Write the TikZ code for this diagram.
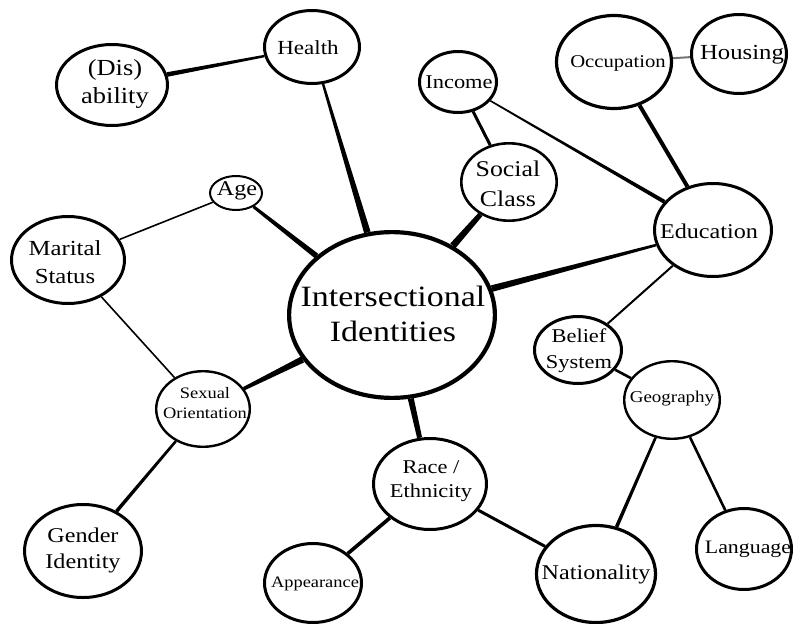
\documentclass[tikz,border=0pt]{standalone}
\usepackage{fontspec}
\setmainfont{Liberation Serif}[FakeStretch=1.15]
\usetikzlibrary{shapes.geometric,calc}
\pgfdeclarelayer{bg}
\pgfsetlayers{bg,main}
\newcommand\tsz[2]{\fontsize{#1}{#2}\selectfont}
% tapered connector: node A, node B, half width at A, half width at B, colour
\newcommand\taper[5][black]{%
  \path (#2) -- (#3) coordinate[pos=0] (tA) coordinate[pos=1] (tB);
  \fill[#1] ($(tA)!#4!90:(tB)$) -- ($(tB)!#5!-90:(tA)$) -- ($(tB)!#5!90:(tA)$) -- ($(tA)!#4!-90:(tB)$) -- cycle;}
\tikzset{
  oval/.style={ellipse, draw=black, line width=3pt, fill=white, inner sep=0pt},
  lbl/.style={align=center, inner sep=0pt, text=black},
}
\begin{document}
\begin{tikzpicture}[x=1pt,y=-1pt]
\path[use as bounding box] (0,0) rectangle (793,624);

% ovals
\node[oval, line width=4.2pt, minimum width=205.8pt, minimum height=165.8pt] (int) at (392,315) {};
\node[oval, minimum width=95pt, minimum height=73pt] (hea) at (312,47) {};
\node[oval, minimum width=111pt, minimum height=81pt] (dis) at (112,85) {};
\node[oval, line width=2pt, minimum width=52pt, minimum height=34pt] (age) at (236,193) {};
\node[oval, minimum width=113pt, minimum height=87pt] (mar) at (68,260) {};
\node[oval, minimum width=77pt, minimum height=61pt] (inc) at (458,82) {};
\node[oval, line width=2.6pt, minimum width=95.4pt, minimum height=77.4pt] (soc) at (509,182) {};
\node[oval, line width=3.2pt, minimum width=115pt, minimum height=93pt] (occ) at (614,62) {};
\node[oval, minimum width=95pt, minimum height=79pt] (hou) at (739,54) {};
\node[oval, minimum width=117pt, minimum height=93pt] (edu) at (713,230) {};
\node[oval, minimum width=87pt, minimum height=67pt] (bel) at (578,350) {};
\node[oval, line width=2.4pt, minimum width=95.6pt, minimum height=77.6pt] (geo) at (672,400) {};
\node[oval, line width=2.4pt, minimum width=93.6pt, minimum height=75.6pt] (sex) at (203,409) {};
\node[oval, minimum width=113pt, minimum height=91pt] (rac) at (430,484) {};
\node[oval, minimum width=117pt, minimum height=93pt] (gen) at (83,551) {};
\node[oval, minimum width=97pt, minimum height=79pt] (app) at (313,583) {};
\node[oval, line width=3.2pt, minimum width=119pt, minimum height=97pt] (nat) at (596,574) {};
\node[oval, minimum width=95pt, minimum height=81pt] (lan) at (744,549) {};

% labels
\node[lbl, font=\tsz{29.5}{35}] (int-t) at (393,314) {Intersectional\\Identities};
\node[lbl, font=\tsz{20}{24}] (hea-t) at (308,48) {Health};
\node[lbl, font=\tsz{23}{28}] (dis-t) at (115,84) {(Dis)\\ability};
\node[lbl, font=\tsz{21}{25}] (age-t) at (237,191) {Age};
\node[lbl, font=\tsz{21.5}{28}] (mar-t) at (65,262) {Marital\\Status};
\node[lbl, font=\tsz{19.5}{23}] (inc-t) at (459,82) {Income};
\node[lbl, font=\tsz{22.5}{30}] (soc-t) at (508,184) {Social\\Class};
\node[lbl, font=\tsz{18}{22}] (occ-t) at (618,63) {Occupation};
\node[lbl, font=\tsz{21.5}{26}] (hou-t) at (742,55) {Housing};
\node[lbl, font=\tsz{21}{25}] (edu-t) at (709,231) {Education};
\node[lbl, font=\tsz{19.5}{26}] (bel-t) at (579,351) {Belief\\System};
\node[lbl, font=\tsz{16.5}{20}] (geo-t) at (672,399) {Geography};
\node[lbl, font=\tsz{16}{20}] (sex-t) at (205,403) {Sexual\\Orientation};
\node[lbl, font=\tsz{19.5}{24}] (rac-t) at (431,481) {Race /\\Ethnicity};
\node[lbl, font=\tsz{21}{26}] (gen-t) at (83,550) {Gender\\Identity};
\node[lbl, font=\tsz{16}{20}] (app-t) at (315,584) {Appearance};
\node[lbl, font=\tsz{21}{25}] (nat-t) at (596,574) {Nationality};
\node[lbl, font=\tsz{19}{23}] (lan-t) at (748,549) {Language};

% white page and connectors (behind the ovals)
\begin{pgfonlayer}{bg}
\fill[white] (0,0) rectangle (793,624);
\taper{dis}{hea}{2.3pt}{1.2pt}
\taper{hea}{int}{1.2pt}{3.3pt}
\taper{age}{mar}{0.8pt}{0.8pt}
\taper{age}{int}{1.5pt}{2.8pt}
\taper{mar}{sex}{0.8pt}{0.8pt}
\taper{sex}{int}{1.8pt}{3.3pt}
\taper{sex}{gen}{1.3pt}{1.8pt}
\taper{inc}{soc}{1.5pt}{1.5pt}
\taper{inc}{edu}{0.8pt}{2pt}
\taper{soc}{int}{2.5pt}{3.5pt}
\taper[black!55]{occ}{hou}{1pt}{1pt}
\taper{occ}{edu}{2pt}{2pt}
\taper{edu}{int}{1.3pt}{3.3pt}
\taper{edu}{bel}{1pt}{1pt}
\taper{bel}{geo}{1.3pt}{1.3pt}
\taper{geo}{nat}{1.3pt}{1.8pt}
\taper{geo}{lan}{1.3pt}{1.3pt}
\taper{int}{rac}{3pt}{2.5pt}
\taper{rac}{app}{1.8pt}{1.8pt}
\taper{rac}{nat}{1.5pt}{1.5pt}
\end{pgfonlayer}
\end{tikzpicture}
\end{document}
